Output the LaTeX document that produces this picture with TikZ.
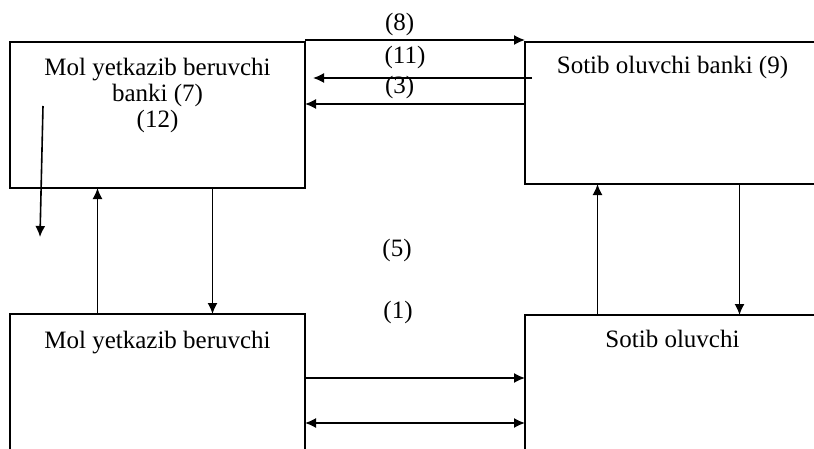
\documentclass[tikz,border=0pt]{standalone}
\usepackage{fontspec}
\setmainfont{Liberation Serif}
\usetikzlibrary{arrows.meta, positioning}
\tikzset{
    boxNode/.style = {rectangle, draw, line width=1.8pt, outer sep=0pt, inner sep=0pt, minimum width=295pt, minimum height=146pt},
    textNode/.style = {inner sep=0pt, align=center, font=\fontsize{25}{26}\selectfont},
    labelNode/.style = {textNode},
    flowPath/.style = {-{Latex[length=11pt, width=10pt]}, line width=1.6pt, draw},
    bothPath/.style = {flowPath, {Latex[length=11pt, width=10pt]}-{Latex[length=11pt, width=10pt]}}
}
\begin{document}
\begin{tikzpicture}[x=1pt, y=1pt]
    \useasboundingbox (0,0) rectangle (814,448);
    \clip (0,0) rectangle (814,448);
    % boxes
    \node(supplierBank)[boxNode, anchor=north west] at (10,406) {};
    \node(buyerBank)[boxNode, minimum height=142pt, right=220pt of supplierBank.north east, anchor=north west] {};
    \node(supplier)[boxNode, below=126pt of supplierBank.south west, anchor=north west] {};
    \node(buyer)[boxNode, below=131pt of buyerBank.south west, anchor=north west] {};
    \node(supplierBankText)[textNode, below=16pt of supplierBank.north] {Mol yetkazib beruvchi\\banki (7)\\(12)};
    \node(buyerBankText)[textNode, below=14pt of buyerBank.north] {Sotib oluvchi banki (9)};
    \node(supplierText)[textNode, below=17pt of supplier.north] {Mol yetkazib beruvchi};
    \node(buyerText)[textNode, below=15pt of buyer.north] {Sotib oluvchi};
    \node(stepFive)[labelNode, anchor=base] at (397,192) {(5)};
    \node(stepOne)[labelNode, anchor=base] at (398,130) {(1)};
    % flows between the banks
    \path[flowPath] ([yshift=2pt]supplierBank.north east) to node[labelNode, pos=0.43, above=3pt]{(8)} ([yshift=2pt]buyerBank.north west);
    \path[flowPath] ([xshift=7pt, yshift=-36pt]buyerBank.north west) to node[labelNode, pos=0.58, above=8pt]{(11)} ([xshift=8pt, yshift=-36pt]supplierBank.north east);
    \path[flowPath] ([yshift=-62pt]buyerBank.north west) to node[labelNode, pos=0.57, above=4pt]{(3)} ([yshift=-62pt]supplierBank.north east);
    \coordinate[below=49pt of supplierBank.south west, xshift=30pt](bankOut);
    \path[flowPath] ([xshift=33pt, yshift=-64pt]supplierBank.north west) to (bankOut);
    % flows between each bank and its client
    \path[flowPath] ([xshift=-60pt]supplier.north) to ([xshift=-60pt]supplierBank.south);
    \path[flowPath] ([xshift=55pt]supplierBank.south) to ([xshift=55pt]supplier.north);
    \path[flowPath] ([xshift=-75pt]buyer.north) to ([xshift=-75pt]buyerBank.south);
    \path[flowPath] ([xshift=67pt]buyerBank.south) to ([xshift=67pt]buyer.north);
    % flows between supplier and buyer
    \path[flowPath] ([yshift=-64pt]supplier.north east) to ([yshift=-63pt]buyer.north west);
    \path[bothPath] ([yshift=-109pt]supplier.north east) to ([yshift=-108pt]buyer.north west);
\end{tikzpicture}
\end{document}
